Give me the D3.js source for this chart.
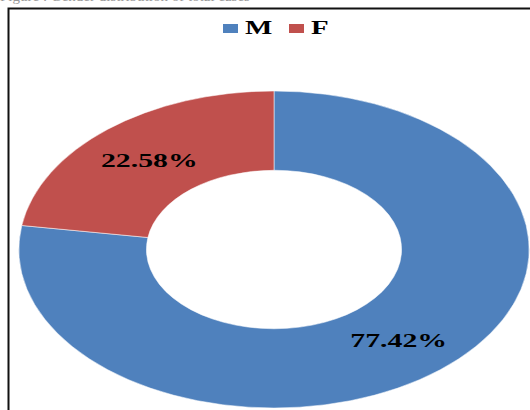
<!DOCTYPE html>
<html>
<head>
<meta charset="utf-8">
<script src="https://cdn.jsdelivr.net/npm/d3@7"></script>
<style>
  body { margin: 0; background: #fff; }
  svg { display: block; }
</style>
</head>
<body>
<div id="chart"></div>
<script>
// data
var categories = ['M', 'F'];
var values = [77.42, 22.58];
var labels = ['77.42%', '22.58%'];
var colors = ['#4F81BD', '#C0504D'];

var width = 530, height = 410;
var stretch = 1.61; // chart is drawn stretched horizontally
var R = 158.5;

var svg = d3.select('#chart').append('svg')
    .attr('width', width)
    .attr('height', height);

// cut off caption line at the very top
svg.append('text')
    .attr('x', 0)
    .attr('y', 0.5)
    .style('font-family', '"Liberation Serif", serif')
    .style('font-size', '15px')
    .style('fill', '#999')
    .text('Figure : Gender distribution of total cases');

// chart frame
svg.append('rect')
    .attr('x', 8.5)
    .attr('y', 8.5)
    .attr('width', 540)
    .attr('height', 420)
    .attr('fill', 'none')
    .attr('stroke', '#111')
    .attr('stroke-width', 2);

var color = d3.scaleOrdinal().domain(categories).range(colors);

var pie = d3.pie().sort(null).value(function(d, i) { return values[i]; });
var arcs = pie(categories);

var arc = d3.arc().innerRadius(R * 0.5).outerRadius(R);

var g = svg.append('g')
    .attr('transform', 'translate(274,249.5) scale(' + stretch + ',1)');

g.selectAll('path')
    .data(arcs)
    .enter().append('path')
    .attr('d', arc)
    .attr('fill', function(d) { return color(d.data); })
    .attr('stroke', '#fff')
    .attr('stroke-width', 0.4);

// labels at slice centroids
svg.selectAll('text.lbl')
    .data(arcs)
    .enter().append('text')
    .attr('class', 'lbl')
    .attr('transform', function(d) {
        var c = arc.centroid(d);
        return 'translate(' + (274 + c[0] * stretch) + ',' + (250.5 + c[1]) + ') scale(' + stretch + ',1)';
    })
    .attr('text-anchor', 'middle')
    .attr('dy', '0.35em')
    .style('font-family', '"Liberation Serif", "Times New Roman", serif')
    .style('font-weight', 'bold')
    .style('font-size', '18.5px')
    .style('fill', '#000')
    .text(function(d, i) { return labels[i]; });

// legend
var legendX = [223, 289];
var legend = svg.selectAll('g.legend')
    .data(categories)
    .enter().append('g')
    .attr('class', 'legend')
    .attr('transform', function(d, i) { return 'translate(' + legendX[i] + ',24)'; });

legend.append('rect')
    .attr('width', 15)
    .attr('height', 9)
    .attr('fill', function(d) { return color(d); });

legend.append('text')
    .attr('transform', 'translate(22,10) scale(' + stretch + ',1)')
    .style('font-family', '"Liberation Serif", "Times New Roman", serif')
    .style('font-weight', 'bold')
    .style('font-size', '18px')
    .style('fill', '#000')
    .text(function(d) { return d; });
</script>
</body>
</html>
